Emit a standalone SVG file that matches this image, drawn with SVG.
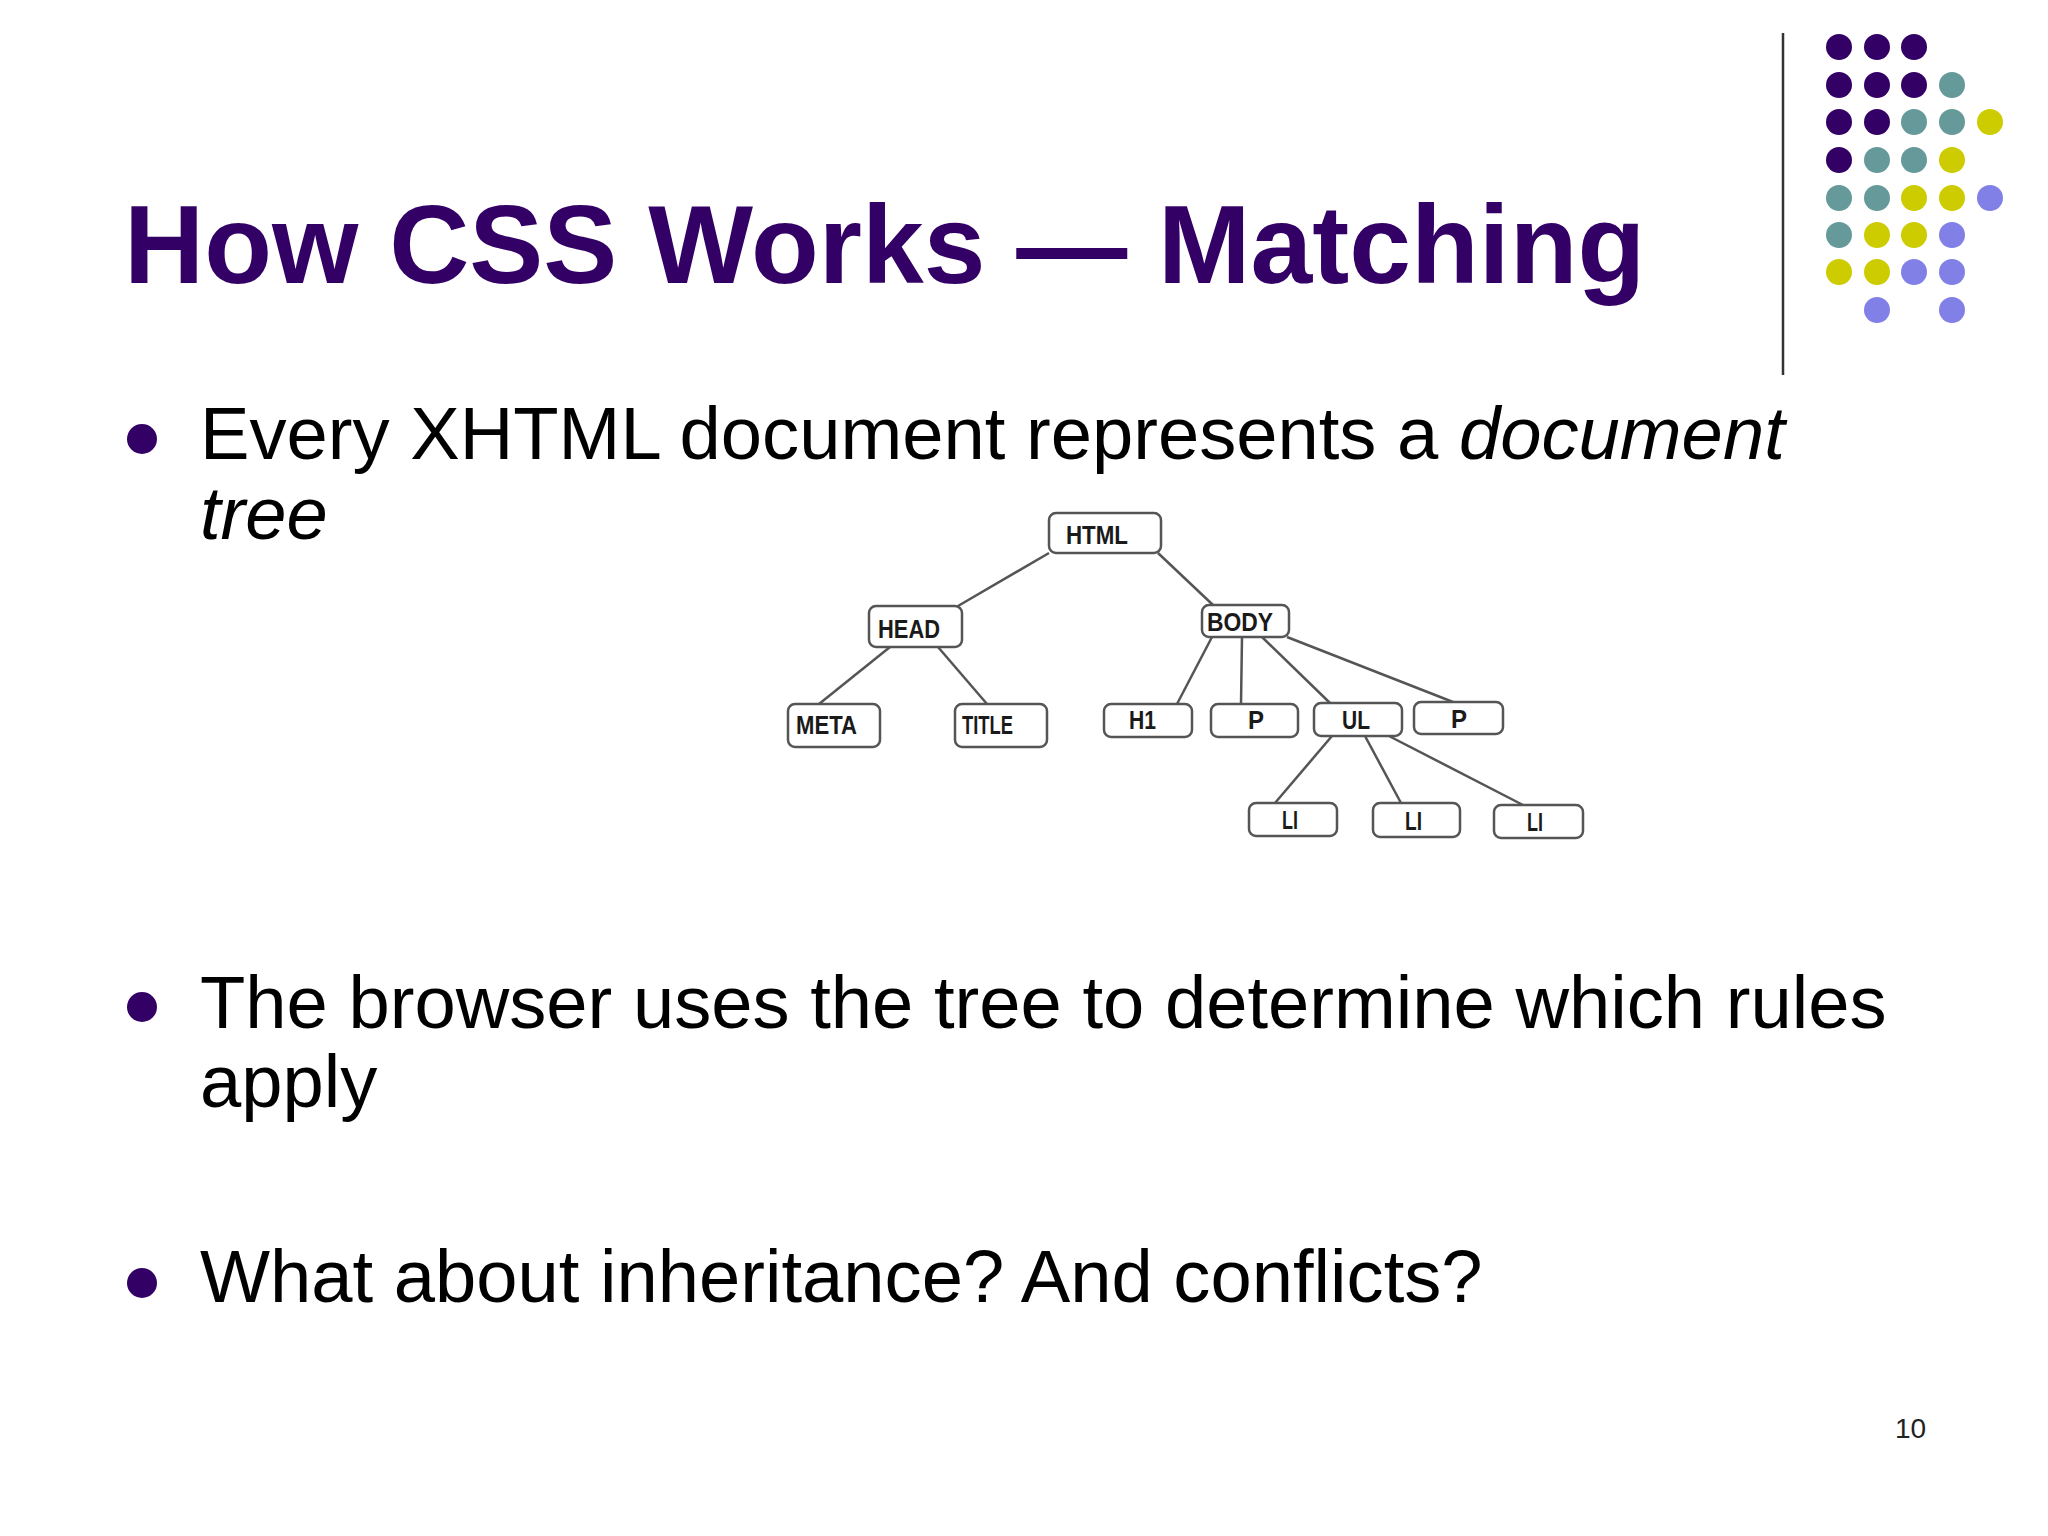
<svg xmlns="http://www.w3.org/2000/svg" width="2048" height="1536" viewBox="0 0 2048 1536">
<style>
.title{font-family:"Liberation Sans",Arial,sans-serif;font-weight:bold;font-size:111px;fill:#330066}
.body{font-family:"Liberation Sans",Arial,sans-serif;font-size:74.2px;fill:#000}
.it{font-style:italic}
.box{fill:#fff;stroke:#555;stroke-width:2.5}
.lbl{font-family:"Liberation Sans",Arial,sans-serif;font-weight:bold;font-size:25px;fill:#1a1a1a}
.edge{stroke:#555;stroke-width:2.5;fill:none}
.p{fill:#330066}.t{fill:#669999}.y{fill:#cccc00}.b{fill:#8080e6}
.pg{font-family:"Liberation Sans",Arial,sans-serif;font-size:28px;fill:#222}
</style>
<rect width="2048" height="1536" fill="#fff"/>
<g id="decoration">
<line x1="1783" y1="33" x2="1783" y2="375" stroke="#333" stroke-width="2.5"/>
<g id="dots">
<circle class="p" cx="1839" cy="47" r="13"/><circle class="p" cx="1877" cy="47" r="13"/><circle class="p" cx="1914" cy="47" r="13"/>
<circle class="p" cx="1839" cy="85" r="13"/><circle class="p" cx="1877" cy="85" r="13"/><circle class="p" cx="1914" cy="85" r="13"/><circle class="t" cx="1952" cy="85" r="13"/>
<circle class="p" cx="1839" cy="122" r="13"/><circle class="p" cx="1877" cy="122" r="13"/><circle class="t" cx="1914" cy="122" r="13"/><circle class="t" cx="1952" cy="122" r="13"/><circle class="y" cx="1990" cy="122" r="13"/>
<circle class="p" cx="1839" cy="160" r="13"/><circle class="t" cx="1877" cy="160" r="13"/><circle class="t" cx="1914" cy="160" r="13"/><circle class="y" cx="1952" cy="160" r="13"/>
<circle class="t" cx="1839" cy="198" r="13"/><circle class="t" cx="1877" cy="198" r="13"/><circle class="y" cx="1914" cy="198" r="13"/><circle class="y" cx="1952" cy="198" r="13"/><circle class="b" cx="1990" cy="198" r="13"/>
<circle class="t" cx="1839" cy="235" r="13"/><circle class="y" cx="1877" cy="235" r="13"/><circle class="y" cx="1914" cy="235" r="13"/><circle class="b" cx="1952" cy="235" r="13"/>
<circle class="y" cx="1839" cy="272" r="13"/><circle class="y" cx="1877" cy="272" r="13"/><circle class="b" cx="1914" cy="272" r="13"/><circle class="b" cx="1952" cy="272" r="13"/>
<circle class="b" cx="1877" cy="310" r="13"/><circle class="b" cx="1952" cy="310" r="13"/>
</g>
</g>
<text class="title" x="124" y="283">How CSS Works — Matching</text>
<g id="bullets">
<circle class="p" cx="142" cy="439" r="15"/>
<text class="body" x="200" y="459">Every XHTML document represents a <tspan class="it">document</tspan></text>
<text class="body it" x="200" y="539">tree</text>
<circle class="p" cx="142" cy="1007" r="15"/>
<text class="body" x="200" y="1028">The browser uses the tree to determine which rules</text>
<text class="body" x="200" y="1107">apply</text>
<circle class="p" cx="142" cy="1283" r="15"/>
<text class="body" x="200" y="1302">What about inheritance? And conflicts?</text>
</g>
<g id="connectors">
<line class="edge" x1="1049" y1="553" x2="958" y2="606"/>
<line class="edge" x1="1158" y1="553" x2="1213" y2="605"/>
<line class="edge" x1="890" y1="647" x2="819" y2="704"/>
<line class="edge" x1="938" y1="647" x2="987" y2="704"/>
<line class="edge" x1="1212" y1="637" x2="1177" y2="704"/>
<line class="edge" x1="1242" y1="637" x2="1241" y2="704"/>
<line class="edge" x1="1262" y1="637" x2="1330" y2="703"/>
<line class="edge" x1="1287" y1="637" x2="1453" y2="702"/>
<line class="edge" x1="1332" y1="736" x2="1275" y2="803"/>
<line class="edge" x1="1365" y1="736" x2="1401" y2="803"/>
<line class="edge" x1="1387" y1="735" x2="1523" y2="805"/>
</g>
<g id="n-html"><rect class="box" x="1049" y="513" width="112" height="40" rx="7"/><text class="lbl" x="1066" y="544" textLength="62" lengthAdjust="spacingAndGlyphs">HTML</text></g>
<g id="n-head"><rect class="box" x="869" y="606" width="93" height="41" rx="7"/><text class="lbl" x="878" y="638" textLength="62" lengthAdjust="spacingAndGlyphs">HEAD</text></g>
<g id="n-meta"><rect class="box" x="788" y="704" width="92" height="43" rx="7"/><text class="lbl" x="796" y="734" textLength="61" lengthAdjust="spacingAndGlyphs">META</text></g>
<g id="n-title"><rect class="box" x="955" y="704" width="92" height="43" rx="7"/><text class="lbl" x="962" y="734" textLength="51" lengthAdjust="spacingAndGlyphs">TITLE</text></g>
<g id="n-body"><rect class="box" x="1202" y="605" width="87" height="32" rx="7"/><text class="lbl" x="1207" y="631" textLength="66" lengthAdjust="spacingAndGlyphs">BODY</text></g>
<g id="n-h1"><rect class="box" x="1104" y="704" width="88" height="33" rx="7"/><text class="lbl" x="1129" y="729" textLength="27" lengthAdjust="spacingAndGlyphs">H1</text></g>
<g id="n-p1"><rect class="box" x="1211" y="704" width="87" height="33" rx="7"/><text class="lbl" x="1248" y="729" textLength="16" lengthAdjust="spacingAndGlyphs">P</text></g>
<g id="n-ul"><rect class="box" x="1314" y="703" width="88" height="33" rx="7"/><text class="lbl" x="1342" y="729" textLength="28" lengthAdjust="spacingAndGlyphs">UL</text></g>
<g id="n-p2"><rect class="box" x="1414" y="702" width="89" height="32" rx="7"/><text class="lbl" x="1451" y="728" textLength="16" lengthAdjust="spacingAndGlyphs">P</text></g>
<g id="n-li1"><rect class="box" x="1249" y="803" width="88" height="33" rx="7"/><text class="lbl" x="1282" y="829" textLength="16" lengthAdjust="spacingAndGlyphs">LI</text></g>
<g id="n-li2"><rect class="box" x="1373" y="803" width="87" height="34" rx="7"/><text class="lbl" x="1405" y="830" textLength="17" lengthAdjust="spacingAndGlyphs">LI</text></g>
<g id="n-li3"><rect class="box" x="1494" y="805" width="89" height="33" rx="7"/><text class="lbl" x="1527" y="831" textLength="16" lengthAdjust="spacingAndGlyphs">LI</text></g>
<text class="pg" x="1895" y="1438">10</text>
</svg>
